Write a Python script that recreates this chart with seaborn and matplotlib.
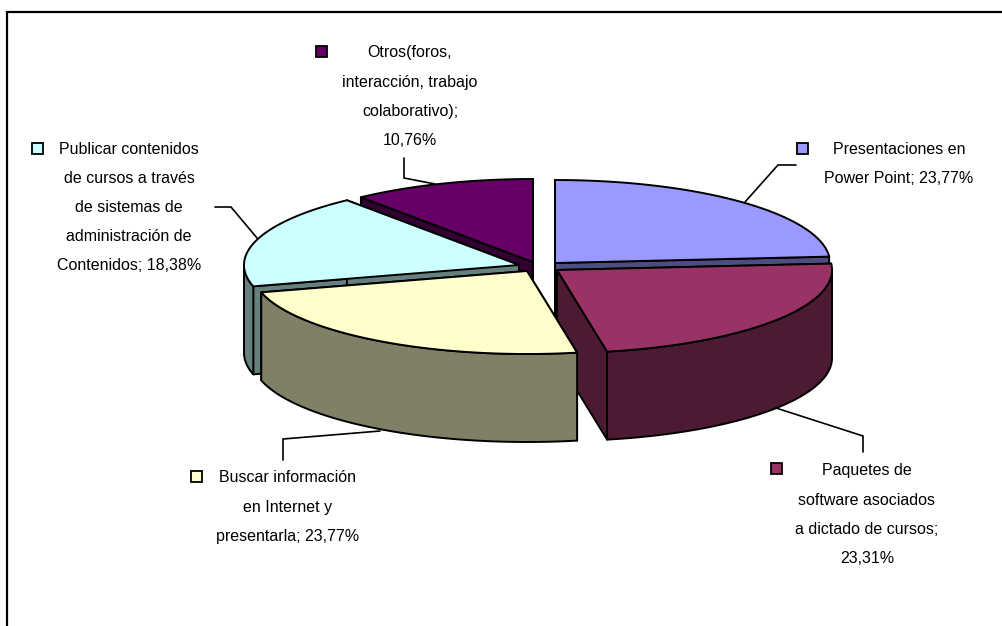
import numpy as np
import matplotlib
matplotlib.use("Agg")
import matplotlib.pyplot as plt
from matplotlib.patches import Polygon, Rectangle
import seaborn as sns

# values of the slices, clockwise from 12 o'clock
shares = [23.77, 23.31, 23.77, 18.38, 10.76]
share_text = ["23,77%", "23,31%", "23,77%", "18,38%", "10,76%"]
top_colors = ["#9999FF", "#993366", "#FFFFCC", "#CCFFFF", "#660066"]
side_colors = ["#4D4D80", "#4D1A33", "#808066", "#668080", "#330033"]
label_lines = [
    ["Presentaciones en", "Power Point; " + share_text[0]],
    ["Paquetes de", "software asociados", "a dictado de cursos;", share_text[1]],
    ["Buscar información", "en Internet y", "presentarla; " + share_text[2]],
    ["Publicar contenidos", "de cursos a través", "de sistemas de",
     "administración de", "Contenidos; " + share_text[3]],
    ["Otros(foros,", "interacción, trabajo", "colaborativo);", share_text[4]],
]

# layout, all in pixels of the 1003x626 picture
apex_x = [555, 557, 527, 519, 533]
apex_y = [263, 270, 271, 265, 262]
rx, ry, depth = 275, 83, 88
draw_order = [4, 0, 1, 3, 2]
label_x = [899, 867, 288, 129, 410]
label_y = [149, 471, 478, 149, 53]
line_step = 29.2
key_x = [797, 771, 191, 32, 316]
key_y = [143, 463, 471, 143, 46]

sns.set_theme(style="white")
plt.rcParams['font.family'] = ['Liberation Sans', 'DejaVu Sans']

fig = plt.figure(figsize=(10.03, 6.26), dpi=100)
ax = fig.add_axes([0, 0, 1, 1])
ax.set_xlim(0, 1003)
ax.set_ylim(626, 0)
ax.axis("off")

# chart border
ax.add_patch(Rectangle((7, 12), 1100, 800, fc="white", ec="black", lw=1.6))


def rim(i, t):
    t = np.radians(t)
    return apex_x[i] + rx * np.sin(t), apex_y[i] - ry * np.cos(t)


def shape(pts, color):
    ax.add_patch(Polygon(pts, closed=True, fc=color, ec="black", lw=1.4, joinstyle="round"))


edges = np.concatenate([[0], np.cumsum(shares) / np.sum(shares) * 360])

for i in draw_order:
    t0, t1 = edges[i], edges[i + 1]
    apex = (apex_x[i], apex_y[i])
    # the two cut faces
    for t in (t0, t1):
        x, y = rim(i, t)
        shape([apex, (x, y), (x, y + depth), (apex[0], apex[1] + depth)], side_colors[i])
    # outer wall, only the part facing the viewer
    lo, hi = max(t0, 90), min(t1, 270)
    if hi > lo:
        ts = np.linspace(lo, hi, 80)
        xs, ys = rim(i, ts)
        wall = list(zip(xs, ys)) + list(zip(xs[::-1], ys[::-1] + depth))
        shape(wall, side_colors[i])
    # top face
    ts = np.linspace(t0, t1, 120)
    xs, ys = rim(i, ts)
    shape([apex] + list(zip(xs, ys)), top_colors[i])

# leader lines
leaders = [
    ([745, 778, 796], [202, 165, 165]),
    ([776, 863, 863], [408, 436, 452]),
    ([380, 283, 283], [431, 439, 460]),
    ([257, 231, 215], [238, 207, 207]),
    ([435, 404, 404], [184, 178, 158]),
]
for xs, ys in leaders:
    ax.plot(xs, ys, color="black", lw=1.2, solid_joinstyle="miter")

# labels with their little keys
for i, lines in enumerate(label_lines):
    ax.add_patch(Rectangle((key_x[i], key_y[i]), 11, 11, fc=top_colors[i], ec="black", lw=1.3))
    for n, line in enumerate(lines):
        ax.text(label_x[i], label_y[i] + n * line_step, line, ha="center", va="center",
                fontsize=11.5, color="black")

fig.savefig("out.png", dpi=100)
